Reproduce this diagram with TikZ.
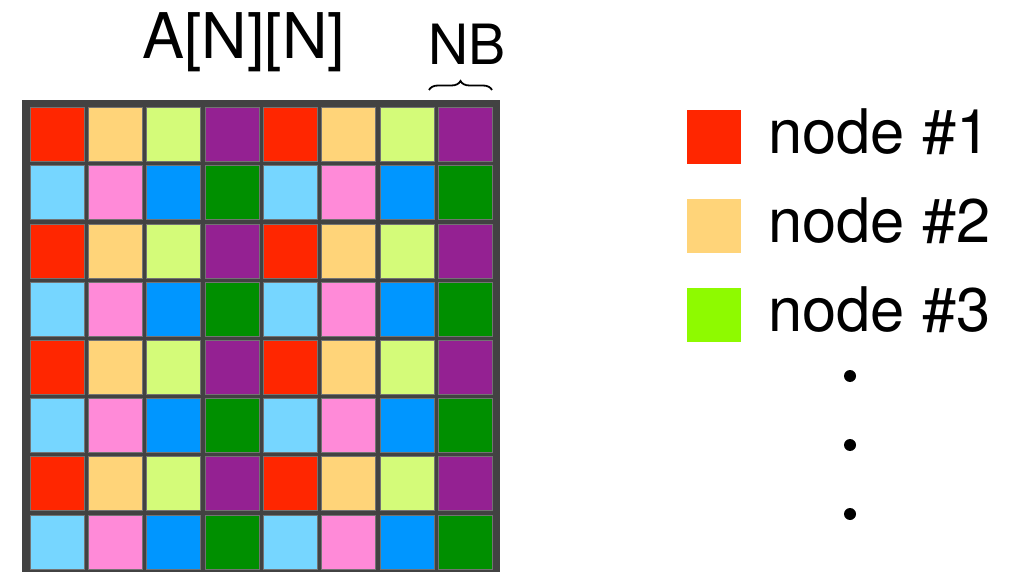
\documentclass[tikz,border=0pt]{standalone}
\usepackage{fontspec}
\setmainfont{TeX Gyre Heros}
\usetikzlibrary{decorations.pathreplacing}
\definecolor{cRed}{HTML}{FF2600}
\definecolor{cOrange}{HTML}{FFD479}
\definecolor{cLime}{HTML}{D4FB79}
\definecolor{cPurple}{HTML}{942192}
\definecolor{cSky}{HTML}{76D6FF}
\definecolor{cPink}{HTML}{FF8AD8}
\definecolor{cBlue}{HTML}{0096FF}
\definecolor{cGreen}{HTML}{008F00}
\definecolor{cLegGreen}{HTML}{8EFA00}
\definecolor{cFrame}{HTML}{424242}
\begin{document}
\begin{tikzpicture}[x=1pt,y=-1pt,
  cellbox/.style={draw=black!55, line width=0.6pt, minimum width=54pt, minimum height=54pt, inner sep=0pt, outer sep=0pt, anchor=north west},
  legbox/.style={minimum width=54pt, minimum height=54pt, inner sep=0pt, anchor=north west},
  legtext/.style={anchor=base west, inner sep=0pt, font=\fontsize{61.5}{61.5}\selectfont},
  dotmark/.style={circle, fill=black, minimum size=12pt, inner sep=0pt}]
\useasboundingbox (0,0) rectangle (1021,572);
% frame
\fill[cFrame] (21.7,100) rectangle (500,576);
% cells
\foreach \r in {0,...,7}{
  \foreach \c in {0,...,7}{
    \pgfmathtruncatemacro{\odd}{mod(\r,2)}
    \pgfmathtruncatemacro{\k}{mod(\c,4)}
    \ifnum\odd=0
      \ifcase\k \def\col{cRed}\or \def\col{cOrange}\or \def\col{cLime}\or \def\col{cPurple}\fi
    \else
      \ifcase\k \def\col{cSky}\or \def\col{cPink}\or \def\col{cBlue}\or \def\col{cGreen}\fi
    \fi
    \node[cellbox, fill=\col] (cell-\r-\c) at ({30+58.3*\c},{107.5+58.2*\r}) {};
  }
}
% labels
\node[anchor=base west, inner sep=0pt, font=\fontsize{63}{63}\selectfont] (title) at (142,58.3) {A[N][N]};
\node[anchor=base west, inner sep=0pt, font=\fontsize{55.5}{55.5}\selectfont] (nb) at (428,65) {NB};
\draw[line width=1.8pt, decorate, decoration={brace, amplitude=9pt}] (429,90) -- (492,90);
% legend
\node[legbox, fill=cRed] (leg1) at (687,110) {};
\node[legbox, fill=cOrange] (leg2) at (687,199) {};
\node[legbox, fill=cLegGreen] (leg3) at (687,288) {};
\node[legtext] (t1) at (768,154) {node \#1};
\node[legtext] (t2) at (768,243) {node \#2};
\node[legtext] (t3) at (768,332) {node \#3};
\node[dotmark] (d1) at (850,376) {};
\node[dotmark] (d2) at (850,445) {};
\node[dotmark] (d3) at (850,514) {};
\end{tikzpicture}
\end{document}
